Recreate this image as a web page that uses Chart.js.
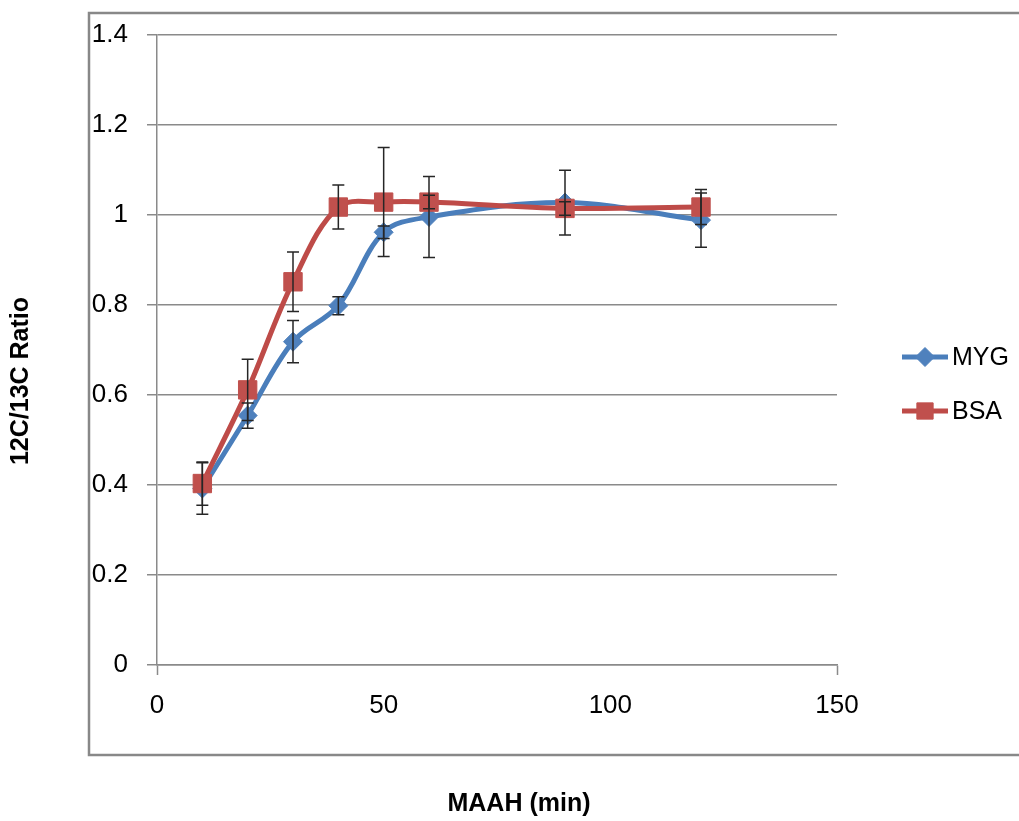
<!DOCTYPE html>
<html>
<head>
<meta charset="utf-8">
<script src="https://cdn.jsdelivr.net/npm/chart.js@4.4.1/dist/chart.umd.min.js"></script>
<style>
  html, body { margin: 0; padding: 0; background: #fff; }
  #wrap { width: 1019px; height: 821px; }
</style>
</head>
<body>
<div id="wrap"><canvas id="myChart" width="1019" height="821"></canvas></div>
<script>
// MAAH time points and 12C/13C ratios with their error bars
const minutes = [10, 20, 30, 40, 50, 60, 90, 120];
const mygRatio = [0.392, 0.554, 0.718, 0.798, 0.961, 0.995, 1.027, 0.988];
const mygErr = [0.057, 0.028, 0.047, 0.02, 0.014, 0.09, 0.072, 0.06];
const bsaRatio = [0.403, 0.611, 0.851, 1.017, 1.028, 1.028, 1.014, 1.017];
const bsaErr = [0.048, 0.068, 0.066, 0.049, 0.121, 0.015, 0.015, 0.039];
const xTickLabels = ['0', '50', '100', '150'];
const yTickLabels = ['0', '0.2', '0.4', '0.6', '0.8', '1', '1.2', '1.4'];

const tickFamily = "'Liberation Sans', sans-serif";
const titleFamily = "'Liberation Sans', sans-serif";
const axisGray = '#8a8a8a';

const toPoints = (vals) => vals.map((v, i) => ({ x: minutes[i], y: v }));

// white page with the grey frame around the plot
const frame = {
  id: 'frame',
  beforeDraw(chart) {
    const ctx = chart.ctx;
    ctx.save();
    ctx.fillStyle = '#fff';
    ctx.fillRect(0, 0, chart.width, chart.height);
    ctx.strokeStyle = '#888';
    ctx.lineWidth = 2.5;
    ctx.strokeRect(89, 13, 1000, 742);
    ctx.restore();
  }
};

const errorBars = {
  id: 'errorBars',
  afterDatasetsDraw(chart) {
    const { ctx, scales: { x, y } } = chart;
    ctx.save();
    ctx.strokeStyle = '#262626';
    ctx.lineWidth = 1.5;
    chart.data.datasets.forEach((ds) => {
      ds.errors.forEach((e, i) => {
        const px = x.getPixelForValue(ds.data[i].x);
        const top = y.getPixelForValue(ds.data[i].y + e);
        const bot = y.getPixelForValue(ds.data[i].y - e);
        ctx.beginPath();
        ctx.moveTo(px, top);
        ctx.lineTo(px, bot);
        ctx.moveTo(px - 6, top);
        ctx.lineTo(px + 6, top);
        ctx.moveTo(px - 6, bot);
        ctx.lineTo(px + 6, bot);
        ctx.stroke();
      });
    });
    ctx.restore();
  }
};

// legend on the right plus the two bold axis titles
const sideText = {
  id: 'sideText',
  afterDraw(chart) {
    const ctx = chart.ctx;
    ctx.save();
    chart.data.datasets.forEach((ds, i) => {
      const ly = 357 + i * 54;
      ctx.strokeStyle = ds.borderColor;
      ctx.lineWidth = ds.borderWidth;
      ctx.beginPath();
      ctx.moveTo(902, ly);
      ctx.lineTo(948, ly);
      ctx.stroke();
      ctx.fillStyle = ds.pointBackgroundColor;
      ctx.strokeStyle = ds.pointBackgroundColor;
      ctx.lineWidth = 1;
      Chart.helpers.drawPoint(ctx, { pointStyle: ds.pointStyle, radius: ds.pointStyle === 'rect' ? 11.5 : 9.5, rotation: 0, borderWidth: 1 }, 925, ly);
      ctx.fillStyle = '#000';
      ctx.font = '25px ' + tickFamily;
      ctx.textAlign = 'left';
      ctx.textBaseline = 'middle';
      ctx.fillText(ds.label, 952, ly + 1);
    });

    ctx.fillStyle = '#000';
    ctx.font = 'bold 25px ' + titleFamily;
    ctx.textAlign = 'center';
    ctx.textBaseline = 'middle';
    ctx.fillText('MAAH (min)', 519, 804);
    ctx.translate(21, 381);
    ctx.rotate(-Math.PI / 2);
    ctx.fillText('12C/13C Ratio', 0, 0);
    ctx.restore();
  }
};

new Chart(document.getElementById('myChart'), {
  type: 'line',
  data: {
    datasets: [
      {
        label: 'MYG',
        data: toPoints(mygRatio),
        errors: mygErr,
        borderColor: '#4A7EBB',
        borderWidth: 5,
        pointStyle: 'rectRot',
        pointRadius: 9.5,
        pointBackgroundColor: '#4F81BD',
        pointBorderColor: '#4F81BD',
        pointBorderWidth: 1,
        tension: 0.35,
        order: 1
      },
      {
        label: 'BSA',
        data: toPoints(bsaRatio),
        errors: bsaErr,
        borderColor: '#BE4B48',
        borderWidth: 5,
        pointStyle: 'rect',
        pointRadius: 13,
        pointBackgroundColor: '#C0504D',
        pointBorderColor: '#C0504D',
        pointBorderWidth: 1,
        tension: 0.35,
        order: 0
      }
    ]
  },
  options: {
    responsive: false,
    animation: false,
    devicePixelRatio: 1,
    layout: { padding: { top: 33, right: 182, bottom: 0, left: 0 } },
    plugins: { legend: { display: false }, tooltip: { enabled: false } },
    scales: {
      x: {
        type: 'linear',
        min: 0,
        max: 150,
        afterFit: (s) => { s.height = 156; },
        ticks: {
          stepSize: 50,
          padding: 15,
          color: '#000',
          font: { family: tickFamily, size: 26 },
          maxRotation: 0,
          callback: (v, i) => xTickLabels[i]
        },
        grid: {
          drawOnChartArea: false,
          drawTicks: true,
          tickLength: 10,
          tickWidth: 1.5,
          tickColor: (c) => (c.index === 0 || c.index === xTickLabels.length - 1 ? axisGray : 'rgba(0,0,0,0)')
        },
        border: { display: true, color: axisGray, width: 1.5 }
      },
      y: {
        min: 0,
        max: 1.4,
        afterFit: (s) => { s.width = 157; },
        ticks: {
          stepSize: 0.2,
          padding: 19,
          color: '#000',
          font: { family: tickFamily, size: 26 },
          callback: (v, i) => yTickLabels[i]
        },
        grid: {
          color: axisGray,
          lineWidth: 1.5,
          drawTicks: true,
          tickLength: 10
        },
        border: { display: true, color: axisGray, width: 1.5 }
      }
    }
  },
  plugins: [frame, errorBars, sideText]
});
</script>
</body>
</html>
